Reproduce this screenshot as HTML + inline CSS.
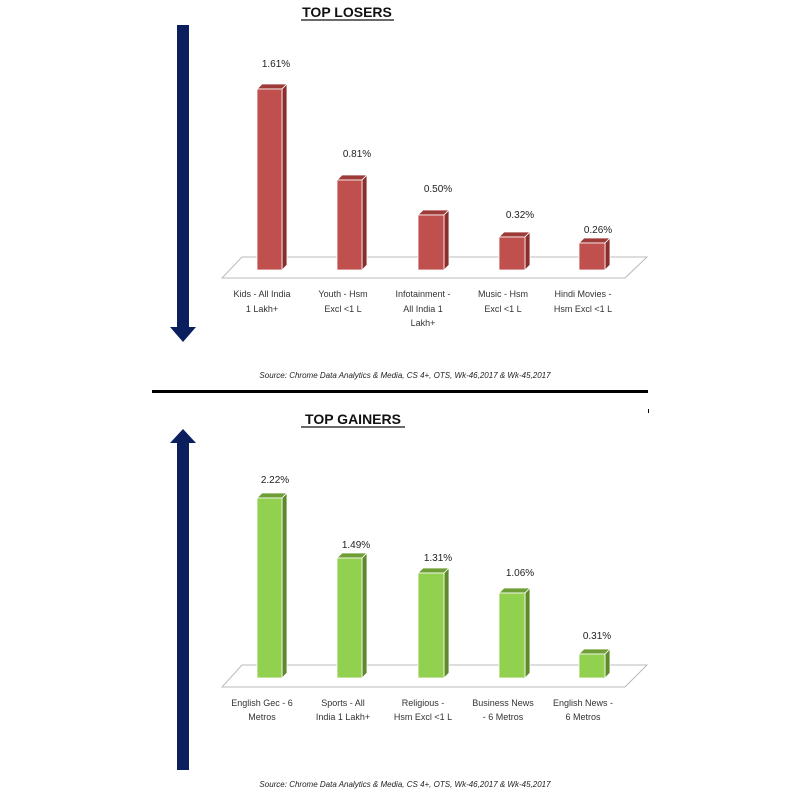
<!DOCTYPE html>
<html><head><meta charset="utf-8"><style>
html,body{margin:0;padding:0;background:#fff}
svg{display:block}
text{font-family:"Liberation Sans",sans-serif}
</style></head><body>
<svg width="800" height="800" viewBox="0 0 800 800">
<!-- TOP LOSERS -->
<text x="347" y="17" font-size="14" font-weight="bold" text-anchor="middle" fill="#111">TOP LOSERS</text>
<line x1="301" y1="20" x2="394" y2="20" stroke="#111" stroke-width="1.2"/>
<rect x="177" y="25" width="12" height="305" fill="#0b1f5e"/>
<polygon points="170,327 196,327 183,342" fill="#0b1f5e"/>
<polygon points="242,257 647,257 625,278 222,278" fill="#fff" stroke="#bbb" stroke-width="1"/>
<g stroke="#fff" stroke-width="0.8">
<polygon points="257,89 262,84 287,84 282,89" fill="#9e3a37"/><polygon points="282,89 287,84 287,265 282,270" fill="#8b2e2b"/><rect x="257" y="89" width="25" height="181" fill="#c0504d"/>
<polygon points="337,180 342,175 367,175 362,180" fill="#9e3a37"/><polygon points="362,180 367,175 367,265 362,270" fill="#8b2e2b"/><rect x="337" y="180" width="25" height="90" fill="#c0504d"/>
<polygon points="418,215 423,210 449,210 444,215" fill="#9e3a37"/><polygon points="444,215 449,210 449,265 444,270" fill="#8b2e2b"/><rect x="418" y="215" width="26" height="55" fill="#c0504d"/>
<polygon points="499,237 504,232 530,232 525,237" fill="#9e3a37"/><polygon points="525,237 530,232 530,265 525,270" fill="#8b2e2b"/><rect x="499" y="237" width="26" height="33" fill="#c0504d"/>
<polygon points="579,243 584,238 610,238 605,243" fill="#9e3a37"/><polygon points="605,243 610,238 610,265 605,270" fill="#8b2e2b"/><rect x="579" y="243" width="26" height="27" fill="#c0504d"/>
</g>
<g font-size="10" text-anchor="middle" fill="#222">
<text x="276" y="67">1.61%</text><text x="357" y="157">0.81%</text><text x="438" y="192">0.50%</text><text x="520" y="218">0.32%</text><text x="598" y="233">0.26%</text>
</g>
<g font-size="9" text-anchor="middle" fill="#333">
<text x="262" y="297">Kids - All India</text><text x="262" y="312">1 Lakh+</text>
<text x="343" y="297">Youth - Hsm</text><text x="343" y="312">Excl &lt;1 L</text>
<text x="423" y="297">Infotainment -</text><text x="423" y="312">All India 1</text><text x="423" y="326">Lakh+</text>
<text x="503" y="297">Music - Hsm</text><text x="503" y="312">Excl &lt;1 L</text>
<text x="583" y="297">Hindi Movies -</text><text x="583" y="312">Hsm Excl &lt;1 L</text>
</g>
<text x="405" y="378" font-size="8" font-style="italic" text-anchor="middle" fill="#222">Source: Chrome Data Analytics &amp; Media, CS 4+,  OTS, Wk-46,2017 &amp; Wk-45,2017</text>
<rect x="152" y="390" width="496" height="3" fill="#000"/>
<rect x="648" y="409" width="1" height="4" fill="#000"/>

<!-- TOP GAINERS -->
<text x="353" y="424" font-size="14" font-weight="bold" text-anchor="middle" fill="#111">TOP GAINERS</text>
<line x1="301" y1="427" x2="405" y2="427" stroke="#111" stroke-width="1.2"/>
<polygon points="170,443 196,443 183,429" fill="#0b1f5e"/>
<rect x="177" y="442" width="12" height="328" fill="#0b1f5e"/>
<polygon points="242,665 647,665 625,687 222,687" fill="#fff" stroke="#bbb" stroke-width="1"/>
<g stroke="#fff" stroke-width="0.8">
<polygon points="257,498 262,493 287,493 282,498" fill="#6e9e35"/><polygon points="282,498 287,493 287,673 282,678" fill="#5e8a2a"/><rect x="257" y="498" width="25" height="180" fill="#92d050"/>
<polygon points="337,558 342,553 367,553 362,558" fill="#6e9e35"/><polygon points="362,558 367,553 367,673 362,678" fill="#5e8a2a"/><rect x="337" y="558" width="25" height="120" fill="#92d050"/>
<polygon points="418,573 423,568 449,568 444,573" fill="#6e9e35"/><polygon points="444,573 449,568 449,673 444,678" fill="#5e8a2a"/><rect x="418" y="573" width="26" height="105" fill="#92d050"/>
<polygon points="499,593 504,588 530,588 525,593" fill="#6e9e35"/><polygon points="525,593 530,588 530,673 525,678" fill="#5e8a2a"/><rect x="499" y="593" width="26" height="85" fill="#92d050"/>
<polygon points="579,654 584,649 610,649 605,654" fill="#6e9e35"/><polygon points="605,654 610,649 610,673 605,678" fill="#5e8a2a"/><rect x="579" y="654" width="26" height="24" fill="#92d050"/>
</g>
<g font-size="10" text-anchor="middle" fill="#222">
<text x="275" y="483">2.22%</text><text x="356" y="548">1.49%</text><text x="438" y="561">1.31%</text><text x="520" y="576">1.06%</text><text x="597" y="639">0.31%</text>
</g>
<g font-size="9" text-anchor="middle" fill="#333">
<text x="262" y="706">English Gec - 6</text><text x="262" y="720">Metros</text>
<text x="343" y="706">Sports - All</text><text x="343" y="720">India 1 Lakh+</text>
<text x="423" y="706">Religious -</text><text x="423" y="720">Hsm Excl &lt;1 L</text>
<text x="503" y="706">Business News</text><text x="503" y="720">- 6 Metros</text>
<text x="583" y="706">English News -</text><text x="583" y="720">6 Metros</text>
</g>
<text x="405" y="787" font-size="8" font-style="italic" text-anchor="middle" fill="#222">Source: Chrome Data Analytics &amp; Media, CS 4+,  OTS, Wk-46,2017 &amp; Wk-45,2017</text>
</svg>
</body></html>
